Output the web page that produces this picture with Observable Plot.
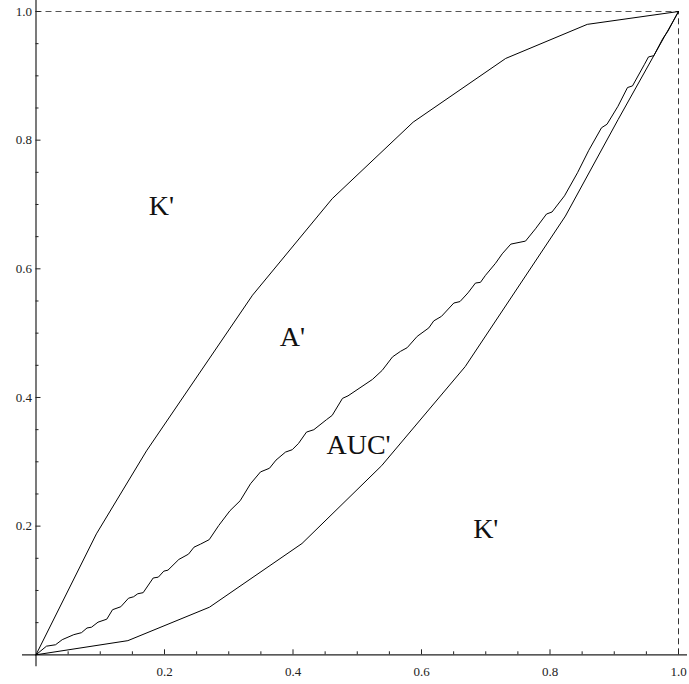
<!DOCTYPE html>
<html>
<head>
<meta charset="utf-8">
<script src="https://cdn.jsdelivr.net/npm/d3@7"></script>
<script src="https://cdn.jsdelivr.net/npm/@observablehq/plot@0.6"></script>
<style>
  html, body { margin: 0; padding: 0; background: #fff; }
  #chart svg { display: block; }
</style>
</head>
<body>
<div id="chart"></div>
<script>
// Upper curve
const upperX = [0, 0.094, 0.172, 0.337, 0.461, 0.587, 0.731, 0.858, 1];
const upperY = [0, 0.188, 0.317, 0.559, 0.709, 0.828, 0.927, 0.980, 1];

// Lower curve
const lowerX = [0, 0.143, 0.270, 0.414, 0.538, 0.668, 0.824, 0.906, 1];
const lowerY = [0, 0.022, 0.074, 0.173, 0.294, 0.448, 0.682, 0.832, 1];

// Middle (empirical) curve
const midX = [0, 0.0163, 0.0304, 0.0408, 0.0588, 0.0708, 0.0794, 0.0864, 0.0965, 0.1102,
  0.1191, 0.1320, 0.1440, 0.1518, 0.1584, 0.1668, 0.1824, 0.1904, 0.1989, 0.2054,
  0.2223, 0.2374, 0.2459, 0.2560, 0.2696, 0.2845, 0.3019, 0.3178, 0.3339, 0.3494,
  0.3634, 0.3735, 0.3883, 0.3988, 0.4086, 0.4210, 0.4324, 0.4521, 0.4610, 0.4770,
  0.4856, 0.5237, 0.5388, 0.5549, 0.5673, 0.5777, 0.5933, 0.6114, 0.6191, 0.6311,
  0.6503, 0.6599, 0.6724, 0.6840, 0.6918, 0.6996, 0.7152, 0.7256, 0.7390, 0.7619,
  0.7774, 0.7946, 0.8031, 0.8226, 0.8428, 0.8604, 0.8802, 0.8887, 0.9058, 0.9206,
  0.9284, 0.9471, 0.9533, 0.9616, 0.9759, 0.9837, 1];
const midY = [0, 0.0134, 0.0156, 0.0235, 0.0313, 0.0344, 0.0417, 0.0429, 0.0507, 0.0554,
  0.0701, 0.0747, 0.0880, 0.0902, 0.0949, 0.0966, 0.1194, 0.1207, 0.1300, 0.1316,
  0.1482, 0.1565, 0.1673, 0.1720, 0.1790, 0.2011, 0.2240, 0.2395, 0.2659, 0.2843,
  0.2900, 0.3026, 0.3151, 0.3188, 0.3286, 0.3462, 0.3499, 0.3655, 0.3722, 0.3986,
  0.4025, 0.4281, 0.4421, 0.4631, 0.4717, 0.4774, 0.4950, 0.5082, 0.5191, 0.5261,
  0.5468, 0.5491, 0.5627, 0.5779, 0.5790, 0.5899, 0.6086, 0.6233, 0.6384, 0.6431,
  0.6622, 0.6852, 0.6883, 0.7135, 0.7493, 0.7843, 0.8193, 0.8247, 0.8527, 0.8818,
  0.8843, 0.9180, 0.9294, 0.9313, 0.9585, 0.9697, 1];

// Ticks
const majorTicks = [0.2, 0.4, 0.6, 0.8, 1.0];
const majorTickLabels = ["0.2", "0.4", "0.6", "0.8", "1.0"];
const minorTicks = [0.05, 0.1, 0.15, 0.25, 0.3, 0.35, 0.45, 0.5, 0.55, 0.65, 0.7, 0.75, 0.85, 0.9, 0.95];

// Region labels
const regionLabels = ["K'", "A'", "AUC'", "K'"];
const regionX = [0.195, 0.399, 0.502, 0.700];
const regionY = [0.697, 0.494, 0.326, 0.195];

const W = 689, H = 684;
const mL = 35.5, mR = 11, mT = 11, mB = 29.7;
const pw = W - mL - mR, ph = H - mT - mB;
const px = (p) => p / pw;  // pixel length -> x data units
const py = (p) => p / ph;  // pixel length -> y data units

const toRows = (xs, ys) => xs.map((x, i) => ({x, y: ys[i]}));
const upper = toRows(upperX, upperY);
const lower = toRows(lowerX, lowerY);
const mid = toRows(midX, midY);

const serif = "'Liberation Serif', 'DejaVu Serif', serif";

const chart = Plot.plot({
  width: W,
  height: H,
  marginLeft: mL,
  marginRight: mR,
  marginTop: mT,
  marginBottom: mB,
  x: {domain: [0, 1], axis: null},
  y: {domain: [0, 1], axis: null},
  style: {background: "#fff", fontFamily: serif},
  marks: [
    // dashed frame at x=1 and y=1
    Plot.ruleY([1], {x1: 0, x2: 1, stroke: "#555", strokeDasharray: "6,4", strokeWidth: 1}),
    Plot.ruleX([1], {y1: 0, y2: 1, stroke: "#333", strokeDasharray: "6,4", strokeWidth: 1}),
    // axis lines crossing at origin
    Plot.ruleY([0], {x1: -px(13.5), x2: 1 + px(9), stroke: "#222", strokeWidth: 1.2}),
    Plot.ruleX([0], {y1: -py(12), y2: 1 + py(11), stroke: "#222", strokeWidth: 1.2}),
    // x ticks (pointing up)
    Plot.ruleX(majorTicks, {x: d => d, y1: 0, y2: py(5), stroke: "#222", strokeWidth: 1}),
    Plot.ruleX(minorTicks, {x: d => d, y1: 0, y2: py(3), stroke: "#222", strokeWidth: 1}),
    // y ticks (pointing right)
    Plot.ruleY(majorTicks, {y: d => d, x1: 0, x2: px(5), stroke: "#222", strokeWidth: 1}),
    Plot.ruleY(minorTicks, {y: d => d, x1: 0, x2: px(3), stroke: "#222", strokeWidth: 1}),
    // tick labels
    Plot.text(majorTicks, {x: d => d, y: 0, text: (d, i) => majorTickLabels[i], dy: 17,
      fontSize: 13, fill: "#222", textAnchor: "middle", lineAnchor: "middle", fontFamily: serif}),
    Plot.text(majorTicks, {x: 0, y: d => d, text: (d, i) => majorTickLabels[i], dx: -4,
      fontSize: 13, fill: "#222", textAnchor: "end", lineAnchor: "middle", fontFamily: serif}),
    // curves
    Plot.line(upper, {x: "x", y: "y", stroke: "#000", strokeWidth: 1}),
    Plot.line(mid, {x: "x", y: "y", stroke: "#000", strokeWidth: 1}),
    Plot.line(lower, {x: "x", y: "y", stroke: "#000", strokeWidth: 1}),
    // region labels
    Plot.text(regionLabels, {x: (d, i) => regionX[i], y: (d, i) => regionY[i], text: d => d,
      fontSize: 28, fill: "#111", textAnchor: "middle", lineAnchor: "middle", fontFamily: serif})
  ]
});

document.getElementById("chart").appendChild(chart);
</script>
</body>
</html>
